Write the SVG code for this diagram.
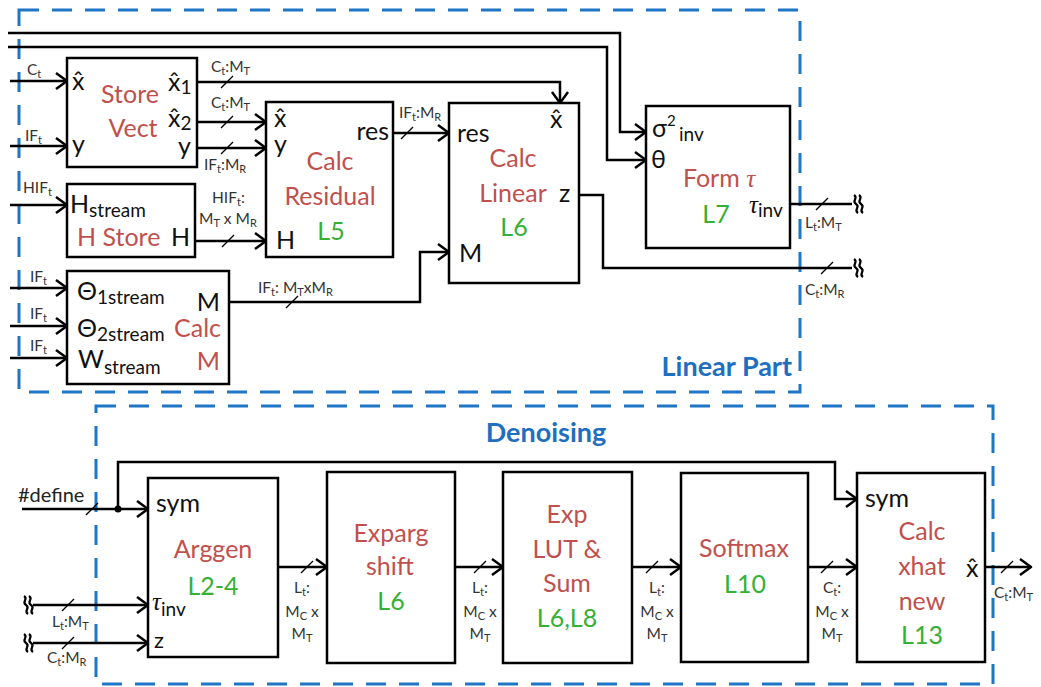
<svg xmlns="http://www.w3.org/2000/svg" width="1041" height="687" viewBox="0 0 1041 687">
<style>
text{font-family:Lato,"Liberation Sans",sans-serif}
.box{fill:#fff;stroke:#000;stroke-width:2.5}
.w{fill:none;stroke:#000;stroke-width:2.5;stroke-linejoin:miter}
.a{marker-end:url(#arr)}
.tk{stroke:#000;stroke-width:1.4;fill:none}
.p{font-size:25px;fill:#111}
.ps{font-size:19px}
.r{font-size:25px;fill:#c0504d}
.g{font-size:25px;fill:#35b035}
.m{text-anchor:middle}
.e{text-anchor:end}
.l{font-size:15.5px;fill:#333}
.s{font-size:11px}
.dash{fill:none;stroke:#1f76c6;stroke-width:3;stroke-dasharray:20 13}
.t{font-weight:bold;font-size:27px;fill:#1f6fc0}
.tau{font-family:"Liberation Serif",serif;font-style:italic}
</style>
<defs>
<marker id="arr" markerUnits="userSpaceOnUse" markerWidth="16" markerHeight="20" refX="12" refY="9" orient="auto">
<path d="M1,1 L12,9 L1,17" fill="none" stroke="#000" stroke-width="2.5" stroke-linejoin="round"/>
</marker>
<g id="sq" fill="none" stroke="#000" stroke-width="2.2">
<path d="M-4,-9 C1,-6 -7,-3 -2,0 C3,3 -5,6 0,9"/>
<path d="M1,-9 C6,-6 -2,-3 3,0 C8,3 0,6 5,9"/>
</g>
</defs>

<g id="frames">
<rect class="dash" x="19" y="10" width="781" height="382"/>
<text class="t" x="792" y="376" text-anchor="end">Linear Part</text>
<rect class="dash" x="96" y="406" width="897" height="278"/>
<text class="t m" x="546" y="442">Denoising</text>
</g>

<g id="connectors">
<path class="w a" d="M8,33 H620 V132 H646"/>
<path class="w a" d="M8,47 H607 V160 H646"/>
<path class="w a" d="M10,81 H67"/>
<path class="w a" d="M10,146 H67"/>
<path class="w a" d="M10,205 H67"/>
<path class="w a" d="M10,288 H67"/>
<path class="w a" d="M10,326 H67"/>
<path class="w a" d="M10,358 H67"/>
<path class="w a" d="M197,82 H560 V103"/>
<path class="w a" d="M197,122 H266"/>
<path class="w a" d="M197,148 H266"/>
<path class="w a" d="M195,241 H266"/>
<path class="w a" d="M393,133 H449"/>
<path class="w a" d="M229,302 H420 V252 H449"/>
<path class="w" d="M579,195 H603 V268 H852"/>
<path class="w" d="M790,204 H852"/>
<use href="#sq" x="858" y="204"/>
<use href="#sq" x="858" y="268"/>
<path class="w a" d="M22,509 H148"/>
<circle cx="118" cy="509" r="3.5" fill="#000"/>
<path class="w a" d="M118,509 V462 H835 V499 H857"/>
<path class="w a" d="M33,605 H148"/>
<path class="w a" d="M33,643 H148"/>
<use href="#sq" x="28" y="605"/>
<use href="#sq" x="28" y="643"/>
<path class="w a" d="M278,567 H327"/>
<path class="w a" d="M455,567 H503"/>
<path class="w a" d="M632,567 H681"/>
<path class="w a" d="M808,567 H857"/>
<path class="w a" d="M985,567 H1031"/>
<path class="tk" d="M221,88 L233,76 M221,128 L233,116 M221,154 L233,142 M222,247 L234,235 M401,139 L413,127 M286,308 L298,296 M816,210 L828,198 M821,274 L833,262 M86,515 L98,503 M62,611 L74,599 M62,649 L74,637 M301,573 L313,561 M474,573 L486,561 M646,573 L658,561 M821,573 L833,561 M1001,573 L1013,561"/>
<text class="l" x="27" y="75">C<tspan class="s" dy="3">t</tspan></text>
<text class="l" x="25" y="141">IF<tspan class="s" dy="3">t</tspan></text>
<text class="l" x="23" y="193">HIF<tspan class="s" dy="3">t</tspan></text>
<text class="l" x="30" y="282">IF<tspan class="s" dy="3">t</tspan></text>
<text class="l" x="30" y="319">IF<tspan class="s" dy="3">t</tspan></text>
<text class="l" x="30" y="351">IF<tspan class="s" dy="3">t</tspan></text>
<text class="l" x="211" y="72">C<tspan class="s" dy="3">t</tspan><tspan dy="-3">:M</tspan><tspan class="s" dy="3">T</tspan></text>
<text class="l" x="211" y="108">C<tspan class="s" dy="3">t</tspan><tspan dy="-3">:M</tspan><tspan class="s" dy="3">T</tspan></text>
<text class="l" x="204" y="170">IF<tspan class="s" dy="3">t</tspan><tspan dy="-3">:M</tspan><tspan class="s" dy="3">R</tspan></text>
<text class="l" x="212" y="203">HIF<tspan class="s" dy="3">t</tspan><tspan dy="-3">:</tspan></text>
<text class="l" x="199" y="224">M<tspan class="s" dy="3">T</tspan><tspan dy="-3"> x M</tspan><tspan class="s" dy="3">R</tspan></text>
<text class="l" x="399" y="118">IF<tspan class="s" dy="3">t</tspan><tspan dy="-3">:M</tspan><tspan class="s" dy="3">R</tspan></text>
<text class="l" x="258" y="293">IF<tspan class="s" dy="3">t</tspan><tspan dy="-3">: M</tspan><tspan class="s" dy="3">T</tspan><tspan dy="-3">xM</tspan><tspan class="s" dy="3">R</tspan></text>
<text class="l" x="805" y="228">L<tspan class="s" dy="3">t</tspan><tspan dy="-3">:M</tspan><tspan class="s" dy="3">T</tspan></text>
<text class="l" x="805" y="295">C<tspan class="s" dy="3">t</tspan><tspan dy="-3">:M</tspan><tspan class="s" dy="3">R</tspan></text>
<text x="18" y="502" style="font-size:20px;fill:#222">#define</text>
<text class="l" x="52" y="627">L<tspan class="s" dy="3">t</tspan><tspan dy="-3">:M</tspan><tspan class="s" dy="3">T</tspan></text>
<text class="l" x="47" y="663">C<tspan class="s" dy="3">t</tspan><tspan dy="-3">:M</tspan><tspan class="s" dy="3">R</tspan></text>
<text class="l m" x="302" y="593">L<tspan class="s" dy="3">t</tspan><tspan dy="-3">:</tspan></text>
<text class="l m" x="302" y="617">M<tspan class="s" dy="3">C</tspan><tspan dy="-3"> x</tspan></text>
<text class="l m" x="302" y="639">M<tspan class="s" dy="3">T</tspan></text>
<text class="l m" x="480" y="593">L<tspan class="s" dy="3">t</tspan><tspan dy="-3">:</tspan></text>
<text class="l m" x="480" y="617">M<tspan class="s" dy="3">C</tspan><tspan dy="-3"> x</tspan></text>
<text class="l m" x="480" y="639">M<tspan class="s" dy="3">T</tspan></text>
<text class="l m" x="657" y="593">L<tspan class="s" dy="3">t</tspan><tspan dy="-3">:</tspan></text>
<text class="l m" x="657" y="617">M<tspan class="s" dy="3">C</tspan><tspan dy="-3"> x</tspan></text>
<text class="l m" x="657" y="639">M<tspan class="s" dy="3">T</tspan></text>
<text class="l m" x="832" y="593">C<tspan class="s" dy="3">t</tspan><tspan dy="-3">:</tspan></text>
<text class="l m" x="832" y="617">M<tspan class="s" dy="3">C</tspan><tspan dy="-3"> x</tspan></text>
<text class="l m" x="832" y="639">M<tspan class="s" dy="3">T</tspan></text>
<text class="l" x="994" y="598">C<tspan class="s" dy="3">t</tspan><tspan dy="-3">:M</tspan><tspan class="s" dy="3">T</tspan></text>
</g>

<g id="store-vect">
<rect class="box" x="67" y="58" width="130" height="109"/>
<text class="p" x="72" y="90">x̂</text>
<text class="p" x="72" y="153">y</text>
<text class="r m" x="130" y="103">Store</text>
<text class="r m" x="133" y="137">Vect</text>
<text class="p" x="168" y="91">x̂<tspan class="ps" dy="3">1</tspan></text>
<text class="p" x="168" y="127">x̂<tspan class="ps" dy="3">2</tspan></text>
<text class="p e" x="191" y="155">y</text>
</g>

<g id="h-store">
<rect class="box" x="67" y="184" width="128" height="73"/>
<text class="p" x="70" y="213">H<tspan class="ps" dy="4">stream</tspan></text>
<text class="r" x="77" y="246">H Store</text>
<text class="p e" x="190" y="246">H</text>
</g>

<g id="calc-m">
<rect class="box" x="67" y="271" width="162" height="113"/>
<text class="p" x="77" y="300">Θ<tspan class="ps" dy="4">1stream</tspan></text>
<text class="p" x="77" y="337">Θ<tspan class="ps" dy="4">2stream</tspan></text>
<text class="p" x="78" y="368">W<tspan class="ps" dy="6">stream</tspan></text>
<text class="p e" x="220" y="311">M</text>
<text class="r e" x="221" y="337">Calc</text>
<text class="r e" x="220" y="370">M</text>
</g>

<g id="calc-residual">
<rect class="box" x="266" y="102" width="127" height="155"/>
<text class="p" x="274" y="127">x̂</text>
<text class="p" x="274" y="153">y</text>
<text class="p" x="276" y="249">H</text>
<text class="p e" x="389" y="140">res</text>
<text class="r m" x="330" y="170">Calc</text>
<text class="r m" x="330" y="205">Residual</text>
<text class="g m" x="331" y="240">L5</text>
</g>

<g id="calc-linear">
<rect class="box" x="449" y="103" width="130" height="180"/>
<text class="p" x="457" y="142">res</text>
<text class="p" x="550" y="128">x̂</text>
<text class="r m" x="513" y="167">Calc</text>
<text class="r m" x="513" y="202">Linear</text>
<text class="p" x="559" y="202">z</text>
<text class="g m" x="514" y="236">L6</text>
<text class="p" x="459" y="262">M</text>
</g>

<g id="form-tau">
<rect class="box" x="646" y="106" width="144" height="142"/>
<text class="p" x="652" y="137">σ</text>
<text class="p" x="667" y="126" style="font-size:15px">2</text>
<text class="p ps" x="679" y="141">inv</text>
<text class="p" x="651" y="168">θ</text>
<text class="r m" x="719" y="187">Form <tspan class="tau">τ</tspan></text>
<text class="g m" x="716" y="223">L7</text>
<text class="p" x="749" y="213"><tspan class="tau">τ</tspan><tspan class="ps" dy="4">inv</tspan></text>
</g>

<g id="arggen">
<rect class="box" x="148" y="478" width="130" height="179"/>
<text class="p" x="156" y="512">sym</text>
<text class="r m" x="213" y="558">Arggen</text>
<text class="g m" x="213" y="595">L2-4</text>
<text class="p" x="152" y="610"><tspan class="tau">τ</tspan><tspan class="ps" dy="6">inv</tspan></text>
<text class="p" x="154" y="648" style="font-size:22px">z</text>
</g>

<g id="exparg-shift">
<rect class="box" x="327" y="472" width="128" height="191"/>
<text class="r m" x="391" y="542">Exparg</text>
<text class="r m" x="390" y="575">shift</text>
<text class="g m" x="391" y="610">L6</text>
</g>

<g id="exp-lut-sum">
<rect class="box" x="503" y="472" width="129" height="191"/>
<text class="r m" x="567" y="523">Exp</text>
<text class="r m" x="567" y="558">LUT &amp;</text>
<text class="r m" x="567" y="592">Sum</text>
<text class="g m" x="567" y="627">L6,L8</text>
</g>

<g id="softmax">
<rect class="box" x="681" y="473" width="127" height="189"/>
<text class="r m" x="744" y="557">Softmax</text>
<text class="g m" x="745" y="593">L10</text>
</g>

<g id="calc-xhat-new">
<rect class="box" x="857" y="473" width="128" height="189"/>
<text class="p" x="865" y="507">sym</text>
<text class="r m" x="922" y="540">Calc</text>
<text class="r m" x="922" y="575">xhat</text>
<text class="r m" x="922" y="610">new</text>
<text class="g m" x="922" y="644">L13</text>
<text class="p" x="966" y="577">x̂</text>
</g>
</svg>
